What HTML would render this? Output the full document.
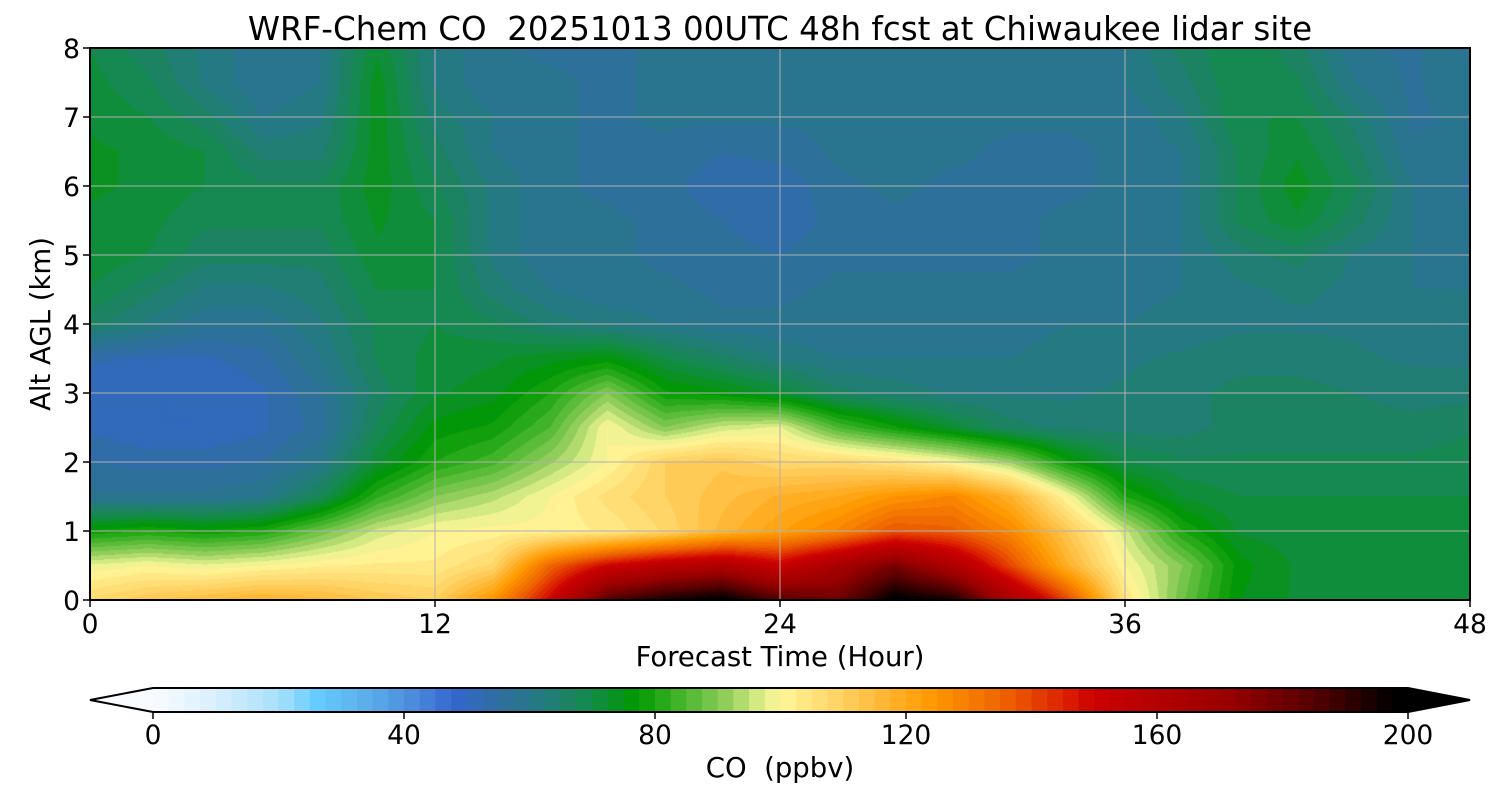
<!DOCTYPE html>
<html><head><meta charset="utf-8"><style>
body{margin:0;background:#fff;width:1500px;height:800px;overflow:hidden;font-family:"DejaVu Sans","Liberation Sans",sans-serif}
#wrap{position:relative;width:1500px;height:800px}
canvas{position:absolute;left:90px;top:48px}
svg{position:absolute;left:0;top:0;font-family:"DejaVu Sans","Liberation Sans",sans-serif}
svg text{white-space:pre}
</style></head><body><div id="wrap">
<canvas id="cv" width="1380" height="552"></canvas>
<svg id="sv" width="1500" height="800"></svg>
</div>
<script>
const times=[0,2,4,6,8,10,12,14,16,18,20,22,24,26,28,30,32,34,36,38,40,42,44,46,48];
const alts=[0,0.5,1,1.5,2,2.5,3,3.5,4,4.5,5,5.5,6,6.5,7,7.5,8];
const co=[
[108,112,115,118,116,112,110,125,150,185,195,200,185,180,200,195,165,140,105,88,75,72,72,72,72],
[98,100,98,100,102,103,103,108,135,150,158,162,152,165,178,162,140,118,100,90,76,72,72,72,72],
[78,80,78,80,88,96,100,101,101,103,108,116,122,128,138,136,128,112,96,80,72,71,71,71,71],
[58,58,58,60,68,82,90,94,100,106,110,114,118,120,125,128,118,100,80,72,70,70,70,70,70],
[55,54,54,55,60,72,80,84,92,100,110,112,108,108,105,100,92,78,70,68,68,68,68,68,69],
[52,50,50,52,56,68,76,78,85,100,90,96,98,85,78,72,66,64,64,64,66,66,66,66,67],
[51,50,50,52,57,66,72,74,80,90,78,76,72,66,64,62,62,62,63,64,66,66,65,64,64],
[53,52,52,54,60,68,71,72,74,76,70,66,62,60,60,60,60,61,62,63,64,64,63,62,62],
[66,62,58,58,62,68,70,68,64,62,60,58,58,58,58,58,59,60,60,61,62,62,62,60,60],
[70,66,62,62,64,70,70,64,60,58,58,57,57,58,58,58,58,58,59,60,62,63,62,60,60],
[72,70,66,66,66,72,70,62,58,58,57,56,55,57,57,57,57,58,58,60,64,66,62,60,58],
[72,71,68,68,68,73,70,62,58,58,57,55,53,56,57,57,57,58,58,60,68,72,66,60,58],
[73,72,70,68,68,74,68,62,58,57,56,53,53,57,58,57,57,57,58,60,68,74,68,60,57],
[73,72,70,64,64,74,66,60,58,57,57,55,56,58,58,58,57,57,58,60,68,72,66,58,58],
[72,70,66,60,62,74,64,60,58,57,58,58,58,58,58,58,58,58,58,62,70,70,64,57,58],
[71,68,62,58,60,74,62,58,58,57,58,58,58,58,58,58,58,58,60,64,70,68,60,57,60],
[70,66,62,58,60,72,62,58,57,57,58,58,58,58,58,58,58,58,60,66,70,66,58,57,60]];
const xTicks=[0,12,24,36,48];
const yTicks=[0,1,2,3,4,5,6,7,8];
const cbTicks=[0,40,80,120,160,200];
const anchorVals=[0,10,20,26,35,42,48,55,62,70,77,85,92,97,100,110,124,135,145,150,171,185,198,200];
const anchorCols=['#f8fbff','#d8f0fc','#a8e0fa','#66ccff','#5aaae8','#4a88dc','#3366cc','#2f6fa0','#237a80','#138a48','#009900','#4cb830','#99d060','#ddee88','#fff799','#ffd060','#ff9900','#ee6600','#dd2200','#cc0000','#990000','#550000','#000000','#000000'];
const step=2.5;
const PL=90,PR=1470,PT=48,PB=600;
const xS=t=>PL+(t-0)/48*(PR-PL);
const yS=a=>PB-(a/8)*(PB-PT);
const cS=v=>153+v/200*(1408-153);
function hex(h){return [1,3,5].map(i=>parseInt(h.substr(i,2),16));}
function colorOf(v){
  v=Math.max(0,Math.min(200,Math.floor(v/step)*step+step/2));
  for(let i=0;i<anchorVals.length-1;i++){
    if(v<=anchorVals[i+1]){const f=(v-anchorVals[i])/(anchorVals[i+1]-anchorVals[i]);
      const a=hex(anchorCols[i]),b=hex(anchorCols[i+1]);return a.map((c,k)=>Math.round(c+(b[k]-c)*f));}
  }
  return [0,0,0];
}
function interp(t,a){
  let i=Math.min(times.length-2,Math.max(0,Math.floor(t/2)));
  let j=Math.min(alts.length-2,Math.max(0,Math.floor(a/0.5)));
  const fx=(t-times[i])/(times[i+1]-times[i]),fy=(a-alts[j])/(alts[j+1]-alts[j]);
  return co[j][i]*(1-fx)*(1-fy)+co[j][i+1]*fx*(1-fy)+co[j+1][i]*(1-fx)*fy+co[j+1][i+1]*fx*fy;
}
const ctx=document.getElementById('cv').getContext('2d');
const img=ctx.createImageData(1380,552);
for(let py=0;py<552;py++){const a=(PB-(py+PT+0.5))/(PB-PT)*8;
  for(let px=0;px<1380;px++){const t=(px+0.5)/1380*48;const c=colorOf(interp(t,a));const k=(py*1380+px)*4;
    img.data[k]=c[0];img.data[k+1]=c[1];img.data[k+2]=c[2];img.data[k+3]=255;}}
ctx.putImageData(img,0,0);
const NS='http://www.w3.org/2000/svg';const sv=document.getElementById('sv');
function mk(tag,at,txt){const e=document.createElementNS(NS,tag);for(const k in at)e.setAttribute(k,at[k]);if(txt!==undefined)e.textContent=txt;sv.appendChild(e);return e;}
let e;
xTicks.forEach(t=>{if(t>0&&t<48){e=mk('line',{x1:xS(t),x2:xS(t),y1:PT,y2:PB,stroke:'#b0b0b0','stroke-width':1});
}
e=mk('line',{x1:xS(t),x2:xS(t),y1:PB,y2:PB+7,stroke:'#000','stroke-width':1.5});

e=mk('text',{x:xS(t),y:633,'font-size':26.5,'text-anchor':'middle'},String(t));
});
yTicks.forEach(a=>{if(a>0&&a<8){e=mk('line',{x1:PL,x2:PR,y1:yS(a),y2:yS(a),stroke:'#b0b0b0','stroke-width':1});
}
e=mk('line',{x1:PL-7,x2:PL,y1:yS(a),y2:yS(a),stroke:'#000','stroke-width':1.5});

e=mk('text',{x:PL-10,y:yS(a)+10,'font-size':26.5,'text-anchor':'end'},String(a));
});
e=mk('rect',{x:PL,y:PT,width:PR-PL,height:PB-PT,fill:'none',stroke:'#000','stroke-width':2});

e=mk('text',{x:780,y:40,'font-size':32.5,'text-anchor':'middle'},'WRF-Chem CO  20251013 00UTC 48h fcst at Chiwaukee lidar site');

e=mk('text',{x:780,y:666,'font-size':27.5,'text-anchor':'middle'},'Forecast Time (Hour)');

e=mk('text',{x:50,y:324,'font-size':27.5,'text-anchor':'middle',transform:'rotate(-90 50 324)'},'Alt AGL (km)');

for(let v=0;v<200;v+=step){const c=colorOf(v);
e=mk('rect',{x:cS(v),y:688,width:cS(v+step)-cS(v)+0.6,height:24,fill:'rgb('+c.join(',')+')'});
}
e=mk('polygon',{points:'153,688 90,700 153,712',fill:'#f8fbff'});

e=mk('polygon',{points:'1408,688 1470,700 1408,712',fill:'#000'});

e=mk('polygon',{points:'153,688 1408,688 1470,700 1408,712 153,712 90,700',fill:'none',stroke:'#000','stroke-width':2});

cbTicks.forEach(v=>{e=mk('line',{x1:cS(v),x2:cS(v),y1:712,y2:719,stroke:'#000','stroke-width':1.5});

e=mk('text',{x:cS(v),y:744,'font-size':26.5,'text-anchor':'middle'},String(v));
});
e=mk('text',{x:780,y:777,'font-size':27.5,'text-anchor':'middle'},'CO  (ppbv)');

</script></body></html>
